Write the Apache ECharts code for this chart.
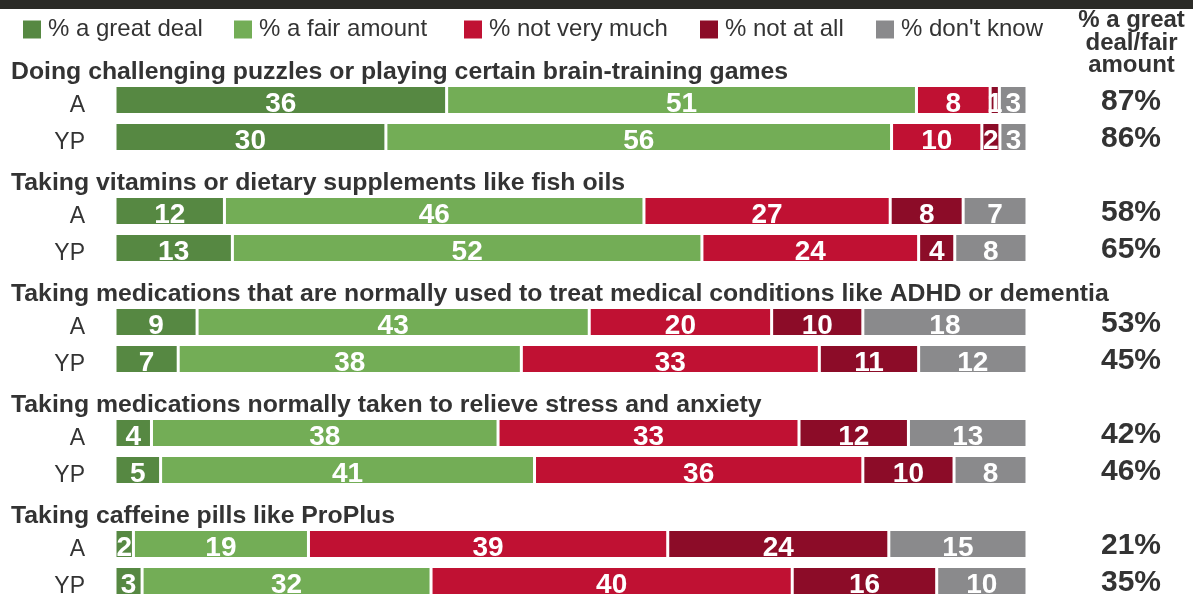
<!DOCTYPE html>
<html><head><meta charset="utf-8">
<script src="https://cdn.jsdelivr.net/npm/echarts@6/dist/echarts.min.js"></script>
<style>html,body{margin:0;padding:0;background:#fff}#c{width:1193px;height:594px}</style>
</head><body><div id="c"></div>
<script>
const groupTitles = [
  'Doing challenging puzzles or playing certain brain-training games',
  'Taking vitamins or dietary supplements like fish oils',
  'Taking medications that are normally used to treat medical conditions like ADHD or dementia',
  'Taking medications normally taken to relieve stress and anxiety',
  'Taking caffeine pills like ProPlus'
];
const rowLabels = ['A', 'YP'];
const seriesNames = ['% a great deal', '% a fair amount', '% not very much', '% not at all', "% don't know"];
const greatDeal   = [36, 30, 12, 13, 9, 7, 4, 5, 2, 3];
const fairAmount  = [51, 56, 46, 52, 43, 38, 38, 41, 19, 32];
const notVeryMuch = [8, 10, 27, 24, 20, 33, 33, 36, 39, 40];
const notAtAll    = [1, 2, 8, 4, 10, 11, 12, 10, 24, 16];
const dontKnow    = [3, 3, 7, 8, 18, 12, 13, 8, 15, 10];
const netGreatFair = [87, 86, 58, 65, 53, 45, 42, 46, 21, 35];
const netHeader = '% a great\ndeal/fair\namount';

const colors = ['#568842', '#73ad56', '#c01133', '#8c0c28', '#8a8a8c'];
const values = [greatDeal, fairAmount, notVeryMuch, notAtAll, dontKnow];
const FONT = "'Liberation Sans',Arial,sans-serif";

// Build slots: title, A, YP per group
const slots = [];
groupTitles.forEach((t, g) => {
  slots.push({type: 'title', text: t});
  rowLabels.forEach((r, k) => slots.push({type: 'row', text: r, idx: g * 2 + k}));
});
const cats = slots.map((s, i) => 'c' + i);
const rowTotals = greatDeal.map((_, i) => values.reduce((a, arr) => a + arr[i], 0));

const series = values.map((arr, si) => ({
  name: seriesNames[si],
  type: 'bar',
  stack: 'all',
  barWidth: 29,
  clip: false,
  itemStyle: {color: colors[si], borderColor: '#fff', borderWidth: 1.5},
  label: {
    show: true, position: 'inside', color: '#fff',
    fontFamily: FONT, fontWeight: 'bold', fontSize: 28, offset: [0, 4],
    formatter: p => p.data && p.data.raw != null ? String(p.data.raw) : ''
  },
  data: slots.map(s => s.type === 'row'
    ? {value: arr[s.idx] / rowTotals[s.idx], raw: arr[s.idx]}
    : '-')
}));

const legendLefts = [23, 234, 464, 700, 876];
const legends = seriesNames.map((n, i) => ({
  data: [n], left: legendLefts[i], top: 17.5, padding: 0,
  itemWidth: 18, itemHeight: 18, icon: 'rect',
  itemStyle: {borderWidth: 0},
  textStyle: {fontFamily: FONT, fontSize: 24, color: '#333', padding: [0, 0, 0, 2]}
}));

const catAxisBase = {
  type: 'category', data: cats, inverse: true, boundaryGap: false,
  axisLine: {show: false}, axisTick: {show: false}, splitLine: {show: false}
};

const chart = echarts.init(document.getElementById('c'), null, {renderer: 'canvas'});
chart.setOption({
  animation: false,
  backgroundColor: '#fff',
  graphic: [{type: 'rect', shape: {x: 0, y: 0, width: 1193, height: 9}, style: {fill: '#2b2b27'}}],
  title: {
    text: netHeader, left: 1131.5, top: 9.5, textAlign: 'center', padding: 0,
    textStyle: {fontFamily: FONT, fontWeight: 'bold', fontSize: 24, lineHeight: 22.5, color: '#333'}
  },
  legend: legends,
  grid: {left: 115, width: 912, top: 63, height: 518, containLabel: false, outerBoundsMode: 'none'},
  xAxis: {type: 'value', min: 0, max: 1, show: false},
  yAxis: [
    Object.assign({}, catAxisBase, {
      position: 'left',
      axisLabel: {
        interval: 0, margin: 30, color: '#333', fontSize: 23, fontFamily: FONT, lineHeight: 12,
        formatter: (v, i) => slots[i].type === 'row' ? '\n' + slots[i].text : ''
      }
    }),
    Object.assign({}, catAxisBase, {
      position: 'left',
      axisLabel: {
        interval: 0, margin: 104, align: 'left', color: '#333', fontSize: 24.8, fontWeight: 'bold',
        fontFamily: FONT, lineHeight: 19,
        formatter: (v, i) => slots[i].type === 'title' ? '\n' + slots[i].text : ''
      }
    }),
    Object.assign({}, catAxisBase, {
      position: 'right',
      axisLabel: {
        interval: 0, margin: 104, align: 'center', color: '#333', fontSize: 30, fontWeight: 'bold',
        fontFamily: FONT, lineHeight: 4,
        formatter: (v, i) => slots[i].type === 'row' ? '\n' + netGreatFair[slots[i].idx] + '%' : ''
      }
    })
  ],
  series: series
});
</script>
</body></html>
